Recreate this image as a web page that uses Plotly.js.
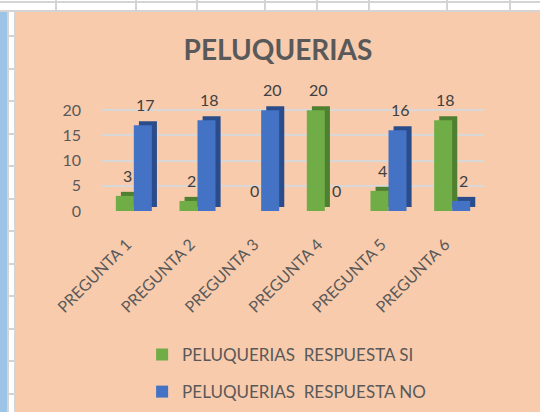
<!DOCTYPE html>
<html>
<head>
<meta charset="utf-8">
<script src="https://cdn.plot.ly/plotly-3.0.1.min.js"></script>
<style>
  html, body { margin: 0; padding: 0; background: #ffffff; width: 540px; height: 412px; overflow: hidden; }
  .hl { position: absolute; height: 2px; background: #d4d4d4; }
  .vl { position: absolute; width: 2px; background: #d4d4d4; }
  #chart { position: absolute; left: 16px; top: 12px; width: 524px; height: 400px; }
</style>
</head>
<body>
<div id="deco"></div>
<div id="chart"></div>
<script>
// ---- data ----
const categories = ["PREGUNTA 1", "PREGUNTA 2", "PREGUNTA 3", "PREGUNTA 4", "PREGUNTA 5", "PREGUNTA 6"];
const respuestaSi = [3, 2, 0, 20, 4, 18];
const respuestaNo = [17, 18, 20, 0, 16, 2];
const seriesNames = ["PELUQUERIAS\u00a0 RESPUESTA SI", "PELUQUERIAS\u00a0 RESPUESTA NO"];
const yTicks = [0, 5, 10, 15, 20];

// ---- spreadsheet decoration around the chart ----
(function () {
  const d = document.getElementById('deco');
  function add(cls, css) { const e = document.createElement('div'); e.className = cls; e.style.cssText = css; d.appendChild(e); }
  add('hl', 'left:0;top:1px;width:540px;');
  add('hl', 'left:0;top:10px;width:540px;');
  [55, 135, 196, 264, 316, 368, 446, 509].forEach(x => add('vl', 'left:' + x + 'px;top:0;height:11px;'));
  add('', 'position:absolute;left:0;top:12px;width:7px;height:400px;background:#9dc3e6;');
  add('vl', 'left:7px;top:12px;height:400px;');
  add('vl', 'left:14px;top:12px;height:400px;');
  [35, 68, 100, 133, 165, 198, 230, 263, 295, 328, 360, 393].forEach(y => add('hl', 'left:7px;top:' + y + 'px;width:8px;'));
})();

// ---- chart ----
const barW = 0.283, dx = 0.08, depth = 0.8;
const fontFam = 'Lato, "Open Sans", sans-serif';

function shadow(vals, off, color) {
  return {
    type: 'bar', x: categories, y: vals, base: depth, offset: off + dx, width: barW,
    marker: { color: color, line: { width: 0 } }, cliponaxis: false,
    showlegend: false, hoverinfo: 'skip'
  };
}
function front(vals, off, color, name, grp) {
  return {
    type: 'bar', x: categories, y: vals, offset: off, width: barW, name: name,
    legendgroup: grp, cliponaxis: false,
    marker: { color: color, line: { width: 0 } }
  };
}
function labels(vals, off) {
  // value labels above each bar, positioned from the category index and the value
  return vals.map((v, i) => ({
    xref: 'x', yref: 'y', x: i + off + barW / 2 + dx / 2, y: v + depth,
    text: String(v), showarrow: false, xanchor: 'center', yanchor: 'bottom', yshift: 5,
    font: { family: fontFam, size: 16, color: '#404040' }
  }));
}

const data = [
  shadow(respuestaSi, -barW, '#4f7f31'),
  front(respuestaSi, -barW, '#70ad47', seriesNames[0], 'si'),
  shadow(respuestaNo, 0, '#2b4c8a'),
  front(respuestaNo, 0, '#4472c4', seriesNames[1], 'no')
];

const layout = {
  width: 524, height: 400,
  paper_bgcolor: '#f8cbad', plot_bgcolor: 'rgba(0,0,0,0)',
  margin: { l: 86, r: 56, t: 78, b: 201, autoexpand: false },
  barmode: 'overlay',
  font: { family: fontFam, color: '#595959' },
  title: { text: '<b>PELUQUERIAS</b>', x: 0.5, xanchor: 'center', y: 0.905, yanchor: 'middle',
           font: { family: fontFam, size: 28, color: '#595959' } },
  xaxis: { type: 'category', range: [-0.5, 5.5], tickangle: -45, showgrid: false, zeroline: false, showline: false,
           ticks: '', ticklabelstandoff: 20, ticklabelshift: -7, automargin: false,
           tickfont: { family: fontFam, size: 16, color: '#595959' } },
  yaxis: { range: [0, 24], tickvals: yTicks, showgrid: true, gridcolor: '#d8d8d8', gridwidth: 2,
           zeroline: false, showline: false, ticks: '', ticklabelstandoff: 20, automargin: false,
           tickfont: { family: fontFam, size: 16, color: '#595959' } },
  annotations: labels(respuestaSi, -barW).concat(labels(respuestaNo, 0)),
  showlegend: true,
  legend: { orientation: 'v', x: 0.105, xanchor: 'left', y: -1.041, yanchor: 'top',
            traceorder: 'grouped', tracegroupgap: 12, bgcolor: 'rgba(0,0,0,0)',
            font: { family: fontFam, size: 17, color: '#595959' } }
};

Plotly.newPlot('chart', data, layout, { displayModeBar: false, staticPlot: true });
</script>
</body>
</html>
